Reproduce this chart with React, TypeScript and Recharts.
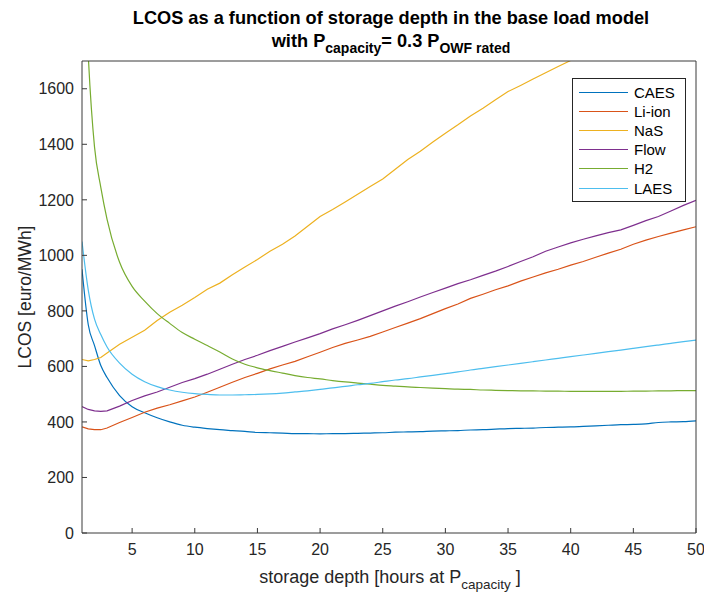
import React from "react";
import { LineChart, Line, XAxis, YAxis, Legend } from "recharts";

// storage depth in hours at P_capacity (extra half-hour points at the steep start)
const depth = [
  1, 1.5, 2, 2.5, 3, 4, 5, 6, 7, 8, 9, 10, 11, 12, 13, 14, 15, 16, 17, 18, 19, 20,
  21, 22, 23, 24, 25, 26, 27, 28, 29, 30, 31, 32, 33, 34, 35, 36, 37, 38, 39, 40,
  41, 42, 43, 44, 45, 46, 47, 48, 49, 50,
];

// LCOS in euro/MWh
const caes = [
  950, 750, 675, 603, 560, 495, 455, 433, 415, 400, 388, 381, 376, 372, 369, 366, 362, 361,
  360, 358, 358, 357, 358, 358, 359, 360, 361, 363, 364, 365, 367, 368, 369, 371, 372, 374,
  376, 377, 378, 380, 381, 382, 384, 386, 388, 390, 391, 393, 398, 400, 401, 404,
];
const liIon = [
  382, 375, 372, 372, 378, 398, 416, 435, 450, 462, 476, 490, 507, 525, 543, 560, 575, 591,
  605, 618, 635, 651, 668, 683, 695, 708, 724, 740, 756, 772, 790, 808, 825, 845, 860, 876,
  890, 907, 922, 937, 950, 965, 978, 993, 1008, 1022, 1040, 1055, 1068, 1080, 1092, 1103,
];
const nas = [
  625, 620, 625, 632, 648, 680, 705, 730, 765, 795, 820, 848, 878, 900, 930, 958, 985, 1015,
  1040, 1070, 1105, 1140, 1165, 1192, 1220, 1248, 1275, 1310, 1345, 1375, 1408, 1440, 1470,
  1502, 1530, 1560, 1590, 1612, 1635, 1658, 1680, 1702, 1725, 1748, 1770, 1795, 1818, 1840,
  1863, 1886, 1910, 1932,
];
const flow = [
  455, 445, 440, 438, 440, 457, 477, 494, 508, 525, 542, 556, 572, 590, 608, 625, 640, 657,
  672, 688, 703, 718, 735, 750, 766, 783, 800, 817, 833, 850, 866, 882, 898, 912, 928, 943,
  960, 978, 995, 1015, 1030, 1045, 1058, 1070, 1082, 1092, 1108, 1125, 1140, 1160, 1180, 1198,
];
const h2 = [
  2300, 1720, 1390, 1245, 1130, 975, 888, 835, 790, 755, 722, 698, 675, 652, 627, 608, 595,
  585, 576, 567, 560, 555, 549, 544, 540, 536, 532, 529, 526, 524, 522, 520, 518, 517, 515,
  514, 513, 512, 512, 511, 511, 510, 510, 510, 510, 510, 511, 511, 512, 512, 513, 513,
];
const laes = [
  1050, 875, 770, 715, 670, 612, 572, 545, 527, 515, 507, 502, 499, 497, 497, 498, 499, 501,
  504, 508, 512, 517, 523, 528, 534, 539, 545, 551, 556, 562, 568, 574, 580, 587, 593, 599,
  605, 611, 617, 623, 629, 635, 641, 647, 653, 659, 665, 671, 677, 683, 689, 695,
];

const xTicks = [5, 10, 15, 20, 25, 30, 35, 40, 45, 50];
const yTicks = [0, 200, 400, 600, 800, 1000, 1200, 1400, 1600];

const series = [
  { key: "CAES", values: caes, color: "#0072BD", smooth: true },
  { key: "Li-ion", values: liIon, color: "#D95319", smooth: false },
  { key: "NaS", values: nas, color: "#EDB120", smooth: false },
  { key: "Flow", values: flow, color: "#7E2F8E", smooth: false },
  { key: "H2", values: h2, color: "#77AC30", smooth: true },
  { key: "LAES", values: laes, color: "#4DBEEE", smooth: true },
];

const data = depth.map((d, i) => {
  const row: any = { depth: d };
  series.forEach((s) => (row[s.key] = s.values[i]));
  return row;
});

const font = '"Liberation Sans", Arial, Helvetica, sans-serif';
const axisColor = "#3a3a3a";
const textColor = "#262626";
const tickStyle = { fontFamily: font, fontSize: 16, fill: textColor };

function MatlabLegend({ payload }: any) {
  // keep the plotting order, not recharts' sorted order
  const items = series
    .map((s) => (payload || []).find((p: any) => p.value === s.key))
    .filter(Boolean);
  return (
    <div
      style={{
        border: "1px solid #262626",
        background: "#fff",
        padding: "4px 0 3px 6px",
        width: 114,
        boxSizing: "border-box",
        fontFamily: font,
        fontSize: 15,
        color: "#000",
      }}
    >
      {items.map((p: any) => (
        <div key={p.value} style={{ display: "flex", alignItems: "center", height: 19.1 }}>
          <span style={{ width: 49, borderTop: `1.5px solid ${p.color}`, marginRight: 6 }} />
          <span>{p.value}</span>
        </div>
      ))}
    </div>
  );
}

export default function App() {
  return (
    <div style={{ position: "absolute", left: 0, top: 0, width: 704, height: 592, background: "#fff" }}>
      <LineChart
        width={704}
        height={592}
        data={data}
        margin={{ top: 60, right: 7, bottom: 0, left: 0 }}
      >
        <XAxis
          xAxisId="b"
          dataKey="depth"
          type="number"
          domain={[1, 50]}
          ticks={xTicks}
          allowDataOverflow
          height={59}
          tickSize={-5}
          tickMargin={16}
          stroke={axisColor}
          tick={tickStyle}
        />
        <XAxis
          xAxisId="t"
          orientation="top"
          dataKey="depth"
          type="number"
          domain={[1, 50]}
          ticks={xTicks}
          allowDataOverflow
          height={1}
          tickSize={-5}
          tick={false}
          stroke={axisColor}
        />
        <YAxis
          yAxisId="l"
          type="number"
          domain={[0, 1700]}
          ticks={yTicks}
          allowDataOverflow
          width={82}
          tickSize={-5}
          tickMargin={13}
          stroke={axisColor}
          tick={tickStyle}
        />
        <YAxis
          yAxisId="r"
          orientation="right"
          type="number"
          domain={[0, 1700]}
          ticks={yTicks}
          allowDataOverflow
          width={1}
          tickSize={-5}
          tick={false}
          stroke={axisColor}
        />
        <Legend
          layout="vertical"
          align="center"
          verticalAlign="middle"
          content={<MatlabLegend />}
          wrapperStyle={{ left: 572, top: 78, width: 114, right: "auto", bottom: "auto" }}
        />
        {series.map((s) => (
          <Line
            key={s.key}
            xAxisId="b"
            yAxisId="l"
            dataKey={s.key}
            name={s.key}
            type={s.smooth ? "monotone" : "linear"}
            stroke={s.color}
            strokeWidth={1.2}
            dot={false}
            activeDot={false}
            isAnimationActive={false}
          />
        ))}
      </LineChart>
      <svg
        width={704}
        height={592}
        style={{ position: "absolute", left: 0, top: 0, pointerEvents: "none" }}
        fontFamily={font}
        fill="#000"
      >
        <text x={391} y={24} textAnchor="middle" fontSize={18.2} fontWeight="bold">
          LCOS as a function of storage depth in the base load model
        </text>
        <text x={391} y={47} textAnchor="middle" fontSize={18.2} fontWeight="bold">
          with P
          <tspan fontSize={14} dy={6}>capacity</tspan>
          <tspan dy={-6}>= 0.3 P</tspan>
          <tspan fontSize={14} dy={6}>OWF rated</tspan>
        </text>
        <text x={390} y={583} textAnchor="middle" fontSize={18} fill={textColor}>
          storage depth [hours at P
          <tspan fontSize={13.5} dy={6}>capacity</tspan>
          <tspan dy={-6}> ]</tspan>
        </text>
        <text
          x={0}
          y={0}
          transform="translate(31 297) rotate(-90)"
          textAnchor="middle"
          fontSize={17.5}
          fill={textColor}
        >
          LCOS [euro/MWh]
        </text>
      </svg>
    </div>
  );
}
